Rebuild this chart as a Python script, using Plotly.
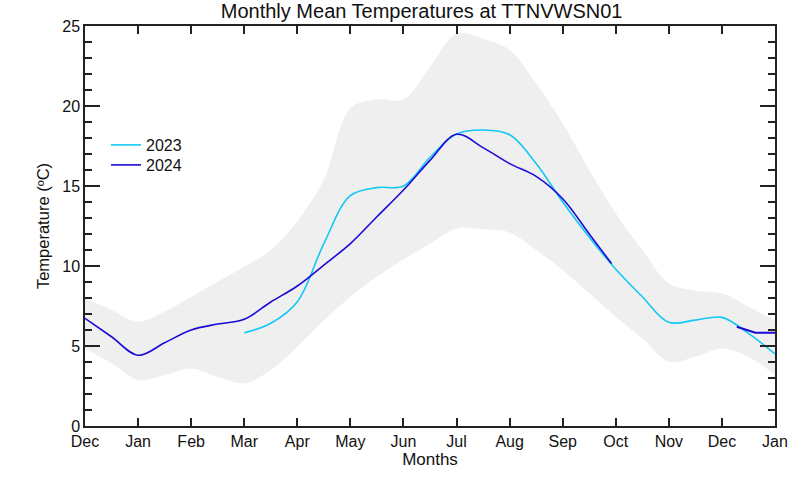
import plotly.graph_objects as go

# Month positions (0 = Dec of previous year ... 13 = Jan of next year)
month_labels = ["Dec", "Jan", "Feb", "Mar", "Apr", "May", "Jun", "Jul",
                "Aug", "Sep", "Oct", "Nov", "Dec", "Jan"]
month_ticks = list(range(14))

# Climatological envelope (grey band)
band_x = [0, 0.5, 1, 1.5, 2, 2.5, 3, 3.5, 4, 4.5, 5, 5.5, 6, 6.5, 7, 7.5,
          8, 8.5, 9, 9.5, 10, 10.5, 11, 11.5, 12, 12.5, 13]
band_upper = [8.0, 7.25, 6.52, 7.15, 8.08, 9.02, 9.96, 11.0, 12.8, 15.4, 19.85, 20.4,
              20.4, 22.46, 24.5, 24.2, 23.5, 21.4, 18.9, 16.0, 13.3, 11.0, 8.92,
              8.46, 8.29, 7.46, 6.6]
band_lower = [4.85, 3.92, 2.875, 3.19, 3.6, 3.08, 2.67, 3.5, 4.96, 6.6, 8.08, 9.33,
              10.4, 11.4, 12.35, 12.3, 12.1, 11.0, 9.75, 8.29, 6.83, 5.48, 4.02,
              4.33, 4.85, 4.33, 3.19]

# 2023 series
t2023_x = [3, 3.5, 4, 4.5, 5, 5.5, 6, 6.5, 7, 7.5, 8, 8.5, 9, 9.5, 10, 10.5,
           11, 11.5, 12, 12.5, 13]
t2023_y = [5.83, 6.42, 7.77, 11.4, 14.4, 14.9, 15.0, 16.8, 18.25, 18.5, 18.2,
           16.4, 14.0, 11.8, 9.8, 8.08, 6.48, 6.62, 6.79, 5.79, 4.5]

# 2024 series (main part and late-year part)
t2024_x = [0, 0.5, 1, 1.5, 2, 2.5, 3, 3.5, 4, 4.5, 5, 5.5, 6, 6.5, 7, 7.5,
           8, 8.5, 9, 9.5, 9.92]
t2024_y = [6.73, 5.58, 4.42, 5.2, 6.0, 6.37, 6.67, 7.75, 8.75, 10.06, 11.4,
           13.08, 14.75, 16.6, 18.23, 17.4, 16.4, 15.6, 14.2, 12.0, 10.15]
t2024b_x = [12.28, 12.63, 13]
t2024b_y = [6.2, 5.83, 5.83]

c2023 = "#12c8f5"
c2024 = "#1a0ad6"
band_col = "#efefef"
font_main = "Liberation Sans, Arial, Helvetica, sans-serif"

fig = go.Figure()
fig.add_trace(go.Scatter(x=band_x, y=band_upper, mode="lines",
                         line=dict(width=0, shape="spline", color=band_col),
                         showlegend=False, hoverinfo="skip"))
fig.add_trace(go.Scatter(x=band_x, y=band_lower, mode="lines", fill="tonexty",
                         fillcolor=band_col,
                         line=dict(width=0, shape="spline", color=band_col),
                         showlegend=False, hoverinfo="skip"))
fig.add_trace(go.Scatter(x=t2023_x, y=t2023_y, mode="lines", name="2023",
                         legend="legend",
                         line=dict(color=c2023, width=1.6, shape="spline")))
fig.add_trace(go.Scatter(x=t2024_x, y=t2024_y, mode="lines", name="2024",
                         legend="legend2",
                         line=dict(color=c2024, width=1.6, shape="spline")))
fig.add_trace(go.Scatter(x=t2024b_x, y=t2024b_y, mode="lines", name="2024",
                         showlegend=False,
                         line=dict(color=c2024, width=2, shape="linear")))

axis_common = dict(showline=True, linecolor="#222", linewidth=1.5, mirror="allticks",
                   ticks="inside", tickcolor="#222", tickwidth=1.5,
                   showgrid=False, zeroline=False, automargin=False,
                   tickfont=dict(family=font_main, size=16, color="#111"))

leg_common = dict(xanchor="left", yanchor="middle", bgcolor="rgba(0,0,0,0)",
                  font=dict(family=font_main, size=16, color="#111"),
                  itemwidth=30)

fig.update_layout(
    width=800, height=480,
    margin=dict(l=85, r=25, t=26, b=54),
    plot_bgcolor="white", paper_bgcolor="white",
    title=dict(text="Monthly Mean Temperatures at TTNVWSN01",
               x=0.527, xanchor="center", yref="container", y=1 - 4 / 480,
               yanchor="top",
               font=dict(family="Liberation Sans Narrow, Arial Narrow, sans-serif",
                         size=20, color="#111")),
    xaxis=dict(range=[0, 13], tickvals=month_ticks, ticktext=month_labels,
               ticklen=8,
               title=dict(text="Months", standoff=0,
                          font=dict(family=font_main, size=17, color="#111")),
               **axis_common),
    yaxis=dict(range=[0, 25], dtick=5, ticklen=15,
               minor=dict(dtick=1, ticks="inside", ticklen=7, tickcolor="#222",
                          tickwidth=1.5),
               title=dict(text="Temperature (ºC)", standoff=8,
                          font=dict(family=font_main, size=16.5, color="#111")),
               **axis_common),
    legend=dict(x=(111 - 5 - 85) / 690, y=(426 - 145) / 400, **leg_common),
    legend2=dict(x=(111 - 5 - 85) / 690, y=(426 - 165) / 400, **leg_common),
    showlegend=True,
)

fig.write_html("out.html",
               config={"displayModeBar": False},
               post_script="document.body.style.margin='0';")
